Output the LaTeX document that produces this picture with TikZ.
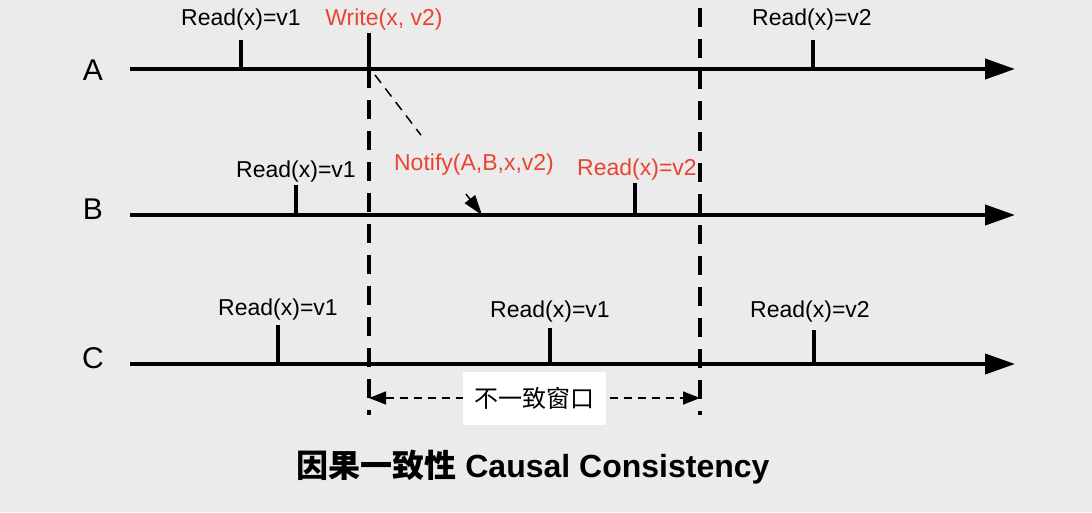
\documentclass[tikz,border=0pt]{standalone}
\usepackage{fontspec}
\setmainfont{Liberation Sans}
\newfontfamily\cjk{Noto Sans CJK SC}
\usetikzlibrary{arrows.meta,calc}
\definecolor{bggray}{HTML}{EBEBEB}
\definecolor{notered}{HTML}{EA4430}
\tikzset{
	axis/.style={line width=4pt,-{Triangle[length=30pt,width=20pt]}},
	tick/.style={line width=3.5pt},
	sync/.style={line width=4pt,dash pattern=on 19pt off 12pt},
	lbl/.style={font=\fontsize{23}{25}\selectfont,inner sep=0pt},
	redlbl/.style={lbl,text=notered},
	proc/.style={font=\fontsize{30}{32}\selectfont,inner sep=0pt}
}
\begin{document}
\begin{tikzpicture}[x=1pt,y=-1pt]
	\fill[bggray] (0,0) rectangle (1092,512);
	\useasboundingbox (0,0) rectangle (1092,512);
	% process lines
	\node[proc] (pa) at (93,70) {A};
	\node[proc] (pb) at (93,209) {B};
	\node[proc] (pc) at (93,358) {C};
	\coordinate (as) at (130,69);  \coordinate (ae) at (1015,69);
	\coordinate (bs) at (130,215); \coordinate (be) at (1015,215);
	\coordinate (cs) at (130,364); \coordinate (ce) at (1015,364);
	\draw[axis] (as) -- (ae);
	\draw[axis] (bs) -- (be);
	\draw[axis] (cs) -- (ce);
	% events
	\foreach \x/\y/\t in {241/69/40, 813/69/40, 296/215/185, 635/215/183, 278/364/325, 550/364/328, 814/364/330}
		\draw[tick] (\x,\t) -- (\x,\y);
	\node[lbl] (ra1) at (241,20) {Read(x)=v1};
	\node[redlbl] (wa) at (384,20) {Write(x, v2)};
	\node[lbl] (ra2) at (812,20) {Read(x)=v2};
	\node[lbl] (rb1) at (296,172) {Read(x)=v1};
	\node[redlbl] (rb2) at (637,170) {Read(x)=v2};
	\node[lbl] (rc1) at (278,310) {Read(x)=v1};
	\node[lbl] (rc2) at (550,312) {Read(x)=v1};
	\node[lbl] (rc3) at (810,312) {Read(x)=v2};
	% window borders
	\coordinate (w1) at (369,69);
	\coordinate (w2) at (700,8);
	\draw[tick] (369,33) -- (w1);
	\draw[sync] (w1) -- (369,415);
	\draw[sync] (w2) -- (700,415);
	% notify message
	\coordinate (ns) at (375,75);
	\coordinate (ne) at (482,215);
	\node[redlbl] (nt) at (474,165) {Notify(A,B,x,v2)};
	\draw[line width=1.5pt,dash pattern=on 10pt off 7pt] (ns) -- ($(ns)!0.43!(ne)$);
	\draw[line width=1.5pt,-{Triangle[length=20pt,width=13pt]}] ($(ns)!0.85!(ne)$) -- (ne);
	% inconsistency window
	\coordinate (il) at (369,398);
	\coordinate (ir) at (700,398);
	\draw[line width=1.5pt,dash pattern=on 8pt off 6pt,{Triangle[length=17pt,width=13pt]}-{Triangle[length=17pt,width=13pt]}] (il) -- (ir);
	\node[fill=white,minimum width=143pt,minimum height=53pt,inner sep=0pt,font=\cjk\fontsize{24}{26}\selectfont] (win) at (534,398) {不一致窗口};
	% caption
	\node[inner sep=0pt,font=\bfseries\fontsize{32}{34}\selectfont] (cap) at (533,467) {{\cjk 因果一致性} Causal Consistency};
\end{tikzpicture}
\end{document}
